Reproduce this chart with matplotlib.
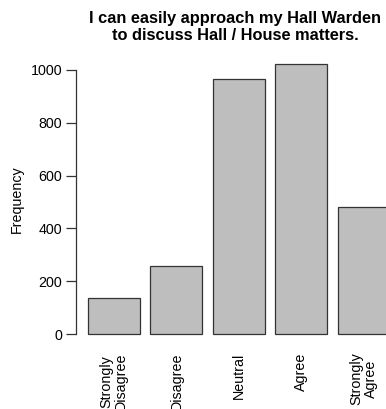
import numpy as np
import matplotlib
matplotlib.use("Agg")
import matplotlib.pyplot as plt

# survey answers
categories = ["Strongly\nDisagree", "Disagree", "Neutral", "Agree", "Strongly\nAgree"]
counts = [136, 258, 966, 1023, 481]
yticks = [0, 200, 400, 600, 800, 1000]

plt.rcParams['font.family'] = ['Liberation Sans', 'DejaVu Sans']

fig = plt.figure(figsize=(3.86, 4.09), dpi=100)
W, H = 386, 409
# plot region (pixels) -- right edge runs off the picture like the original
left, right, top, bottom = 76, 401.6, 53, 345
ax = fig.add_axes([left / W, 1 - bottom / H, (right - left) / W, (bottom - top) / H])

# R style barplot positions: width 1, space 0.2
xs = 0.2 + 1.2 * np.arange(len(counts)) + 0.5
ax.bar(xs, counts, width=1.0, color="#bebebe", edgecolor="#333333", linewidth=0.9)

n = len(counts)
xr = (0.2, 1.2 * n)
pad = 0.04 * (xr[1] - xr[0])
ax.set_xlim(xr[0] - pad, xr[1] + pad)
ymax = max(counts)
ax.set_ylim(-0.04 * ymax, 1.04 * ymax)

for s in ["top", "right", "bottom"]:
    ax.spines[s].set_visible(False)
ax.spines["left"].set_bounds(0, 1000)
ax.spines["left"].set_color("#333333")
ax.spines["left"].set_linewidth(0.9)

ax.set_yticks(yticks)
ax.set_yticklabels([str(v) for v in yticks], fontsize=10.3)
ax.tick_params(axis="y", length=7, width=0.9, color="#333333", pad=3)

ax.set_xticks(xs)
ax.set_xticklabels(categories, rotation=90, fontsize=10.3, linespacing=1.05)
ax.tick_params(axis="x", length=0, pad=5.5)

ax.set_ylabel("Frequency", fontsize=10.3, labelpad=5)

fig.text(235 / W, 1 - 11 / H,
         "I can easily approach my Hall Warden\nto discuss Hall / House matters.",
         ha="center", va="top", fontsize=11.8, fontweight="bold", linespacing=1.15)

fig.savefig("out.png", dpi=100)
